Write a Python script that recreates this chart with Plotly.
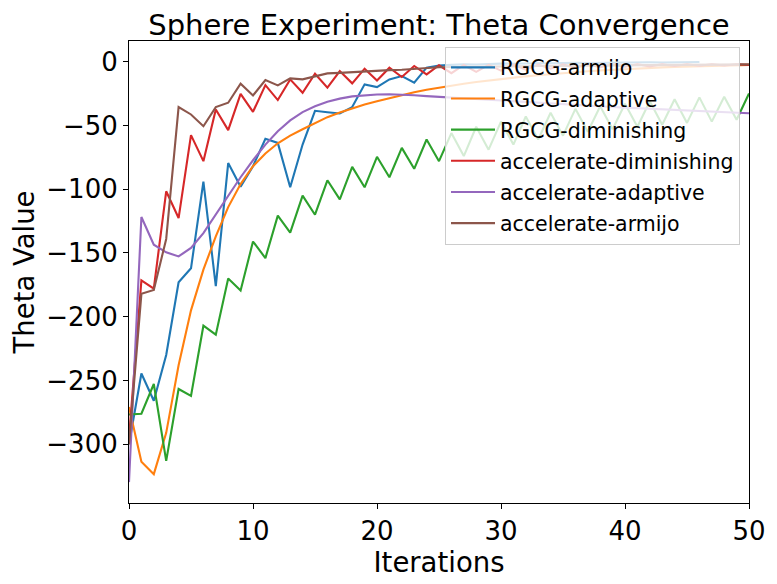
import plotly.graph_objs as go

# Data

iterations = list(range(0, 51))

rgcg_armijo = [-300, -244.5, -265.8, -230, -173, -162, -94, -176, -79.5, -98,
               -82, -60.5, -63.7, -98.5, -65, -38.5, -39.6, -40.6, -35.6, -17.8,
               -19.9, -13.9, -11.3, -16.5, -4.7, -3, -2.5, -2, -2.2, -1.8,
               -1.5, -1.6, -1.3, -1.2, -1.3, -1.0, -0.9, -1.0, -0.8, -0.7,
               -0.8, -0.6, -0.5, -0.6, -0.4, -0.3, -0.3]

rgcg_adaptive = [-270.7, -313.7, -323.4, -291, -238, -195, -163, -137, -114, -96,
                 -82, -72, -64, -58, -53, -48, -43.5, -39.8, -36.5, -33.5,
                 -31, -28.5, -26.3, -24, -22, -20.3, -18.8, -17.3, -16, -14.8,
                 -13.6, -12.5, -11.5, -10.6, -9.7, -8.9, -8.2, -7.5, -6.9, -6.3,
                 -5.8, -5.3, -4.9, -4.5, -4.1, -3.8, -3.5, -3.2, -2.9, -2.7,
                 -2.5]

rgcg_diminishing = [-276.6, -276, -252.7, -313, -256.6, -262, -207, -214, -170, -179.4,
                    -141, -154, -120.7, -134, -105, -120, -93, -108, -82.5, -98.5,
                    -74.6, -90.6, -67.6, -84, -61, -78, -56, -74, -51, -69,
                    -47, -65, -43, -61, -40, -58, -37, -55, -35, -53,
                    -33, -51, -31, -49.5, -29.5, -48, -28, -47, -27.5, -45.5,
                    -25]

acc_diminishing = [-295, -171.5, -178, -101.6, -122.6, -57.6, -78, -37.5, -53.7, -25.2,
                   -39.3, -18.4, -30.1, -13.9, -24.4, -9.5, -20.4, -7.4, -17, -5.5,
                   -14.7, -4.7, -12, -3.4, -10, -2.8, -9, -2.6, -8, -2.5,
                   -7, -2.4, -6.2, -2.3, -5.5, -2.2, -4.9, -2.1, -4.4, -2.1,
                   -4, -2, -3.7, -2, -3.4, -2, -3.2, -2, -3, -2,
                   -2.6]

acc_adaptive = [-329.6, -121.8, -143.5, -149.5, -152.7, -146, -134.4, -120, -105, -90.6,
                -77.3, -65, -54.5, -46, -39.5, -35, -31.5, -29, -27.2, -26.2,
                -25.7, -25.6, -25.8, -26.3, -27, -27.6, -28.2, -28.8, -29.4, -30,
                -30.6, -31.2, -31.8, -32.3, -32.9, -33.4, -34, -34.5, -35, -35.5,
                -36, -36.5, -37, -37.5, -38, -38.5, -39, -39.4, -39.8, -40.2,
                -40.5]

acc_armijo = [-300, -182, -179, -139, -35.6, -41.4, -50.6, -35.6, -32.2, -17.3,
              -26.5, -14.4, -18.6, -13.1, -13.9, -11.3, -9.2, -8.8, -8.1, -7.6,
              -7, -6.6, -6.3, -5.5, -4.7, -4.4, -4.2, -4.0, -3.9, -3.8,
              -3.7, -3.6, -3.5, -3.4, -3.3, -3.2, -3.1, -3.0, -2.9, -2.8,
              -2.7, -2.6, -2.5, -2.4, -2.4, -2.3, -2.3, -2.2, -2.2, -2.1,
              -2.1]

series = [
    ('RGCG-armijo', rgcg_armijo, '#1f77b4'),
    ('RGCG-adaptive', rgcg_adaptive, '#ff7f0e'),
    ('RGCG-diminishing', rgcg_diminishing, '#2ca02c'),
    ('accelerate-diminishing', acc_diminishing, '#d62728'),
    ('accelerate-adaptive', acc_adaptive, '#9467bd'),
    ('accelerate-armijo', acc_armijo, '#8c564b'),
]

font_family = 'DejaVu Sans'

data = []
for name, values, color in series:
    data.append(go.Scatter(x=iterations[:len(values)], y=values, name=name,
                           mode='lines', legendgroup=name,
                           line=dict(color=color, width=2.1)))

axis_style = dict(showline=True, linecolor='black', linewidth=1.1, mirror=True,
                  ticks='outside', ticklen=5, tickwidth=1.1, tickcolor='black',
                  showgrid=False, zeroline=False, automargin=False,
                  tickfont=dict(size=26, color='black', family=font_family))

# the page adds an 8px body margin, so the figure is a bit smaller than the window
layout = go.Layout(
    width=769, height=576,
    margin=dict(l=121, r=28, t=33, b=81),
    paper_bgcolor='white', plot_bgcolor='white',
    font=dict(family=font_family, color='black'),
    title=dict(text='Sphere Experiment: Theta Convergence', x=0.5, xref='paper',
               y=1 - 17 / 576, yref='container', yanchor='middle',
               font=dict(size=29, color='black', family=font_family)),
    xaxis=dict(range=[0, 50], tickvals=[0, 10, 20, 30, 40, 50],
               title=dict(text='Iterations', standoff=2,
                          font=dict(size=27.5, family=font_family)),
               **axis_style),
    yaxis=dict(range=[-346, 16.2], tickvals=[0, -50, -100, -150, -200, -250, -300],
               title=dict(text='Theta Value', standoff=14,
                          font=dict(size=27.5, family=font_family)),
               **axis_style),
    legend=dict(x=0.9855, y=0.988, xanchor='right', yanchor='top',
                bgcolor='rgba(255,255,255,0.8)', bordercolor='#cccccc', borderwidth=1,
                font=dict(size=20.5, family=font_family, color='black'),
                itemwidth=44, traceorder='grouped', tracegroupgap=1.5),
    showlegend=True,
)

fig = go.Figure(data=data, layout=layout)
fig.write_html("out.html")
